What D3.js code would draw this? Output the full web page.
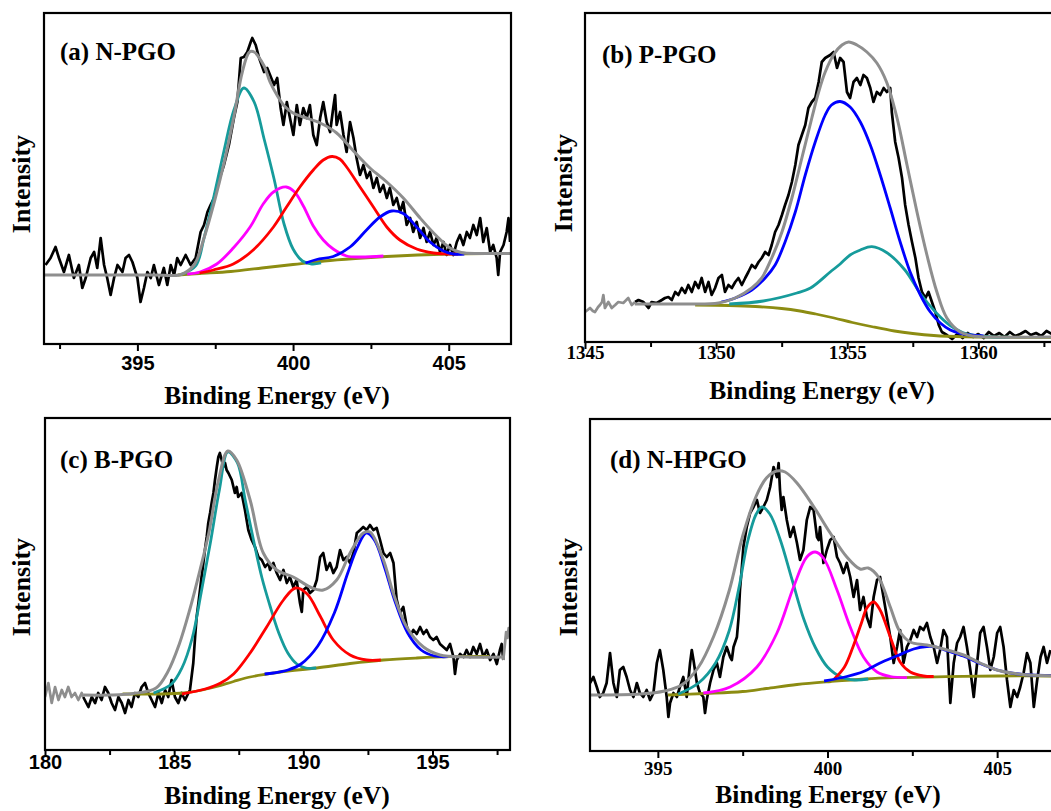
<!DOCTYPE html>
<html><head><meta charset="utf-8">
<script src="https://cdn.jsdelivr.net/npm/d3@7"></script>
<style>
html,body{margin:0;padding:0;background:#fff;overflow:hidden;}
svg{display:block;}
</style></head><body>
<svg id="chart" width="1051" height="811"></svg>
<script>
// ---------------- Panel (a) N-PGO ----------------
const aTicks = [395, 400, 405];
const aMinor = [392.5, 397.5, 402.5];
const aRaw = [[392.05,79],[392.21,86],[392.37,97],[392.48,86],[392.64,72],[392.80,89],[392.96,66],[393.12,79],[393.23,56],[393.34,66],[393.50,86],[393.61,92],[393.71,76],[393.82,106],[393.93,79],[394.03,66],[394.14,49],[394.25,66],[394.36,79],[394.52,72],[394.62,86],[394.73,89],[394.84,82],[395.00,66],[395.10,42],[395.21,56],[395.32,72],[395.43,66],[395.53,79],[395.69,59],[395.85,76],[395.96,59],[396.07,79],[396.18,69],[396.28,86],[396.39,79],[396.55,89],[396.71,79],[396.87,86],[397.03,112],[397.14,119],[397.25,132],[397.35,139],[397.46,146],[397.57,159],[397.78,179],[397.94,199],[398.10,226],[398.21,242],[398.32,286],[398.42,287],[398.53,292],[398.64,302],[398.69,306],[398.80,299],[398.91,286],[399.07,272],[399.17,276],[399.39,259],[399.49,266],[399.60,236],[399.69,219],[399.80,242],[399.90,226],[400.01,209],[400.12,239],[400.22,219],[400.33,236],[400.44,226],[400.54,239],[400.65,209],[400.76,199],[400.87,226],[400.97,242],[401.08,222],[401.19,212],[401.29,236],[401.35,249],[401.40,219],[401.51,232],[401.62,209],[401.72,192],[401.83,222],[401.94,206],[402.04,186],[402.15,169],[402.26,179],[402.37,166],[402.47,172],[402.58,156],[402.69,166],[402.79,152],[402.90,159],[403.01,146],[403.11,156],[403.22,139],[403.33,146],[403.44,132],[403.54,142],[403.65,119],[403.76,126],[403.86,112],[403.97,122],[404.08,106],[404.19,116],[404.29,102],[404.40,112],[404.51,99],[404.61,106],[404.72,92],[404.83,102],[404.93,89],[405.04,99],[405.15,89],[405.26,102],[405.36,109],[405.47,99],[405.58,112],[405.68,106],[405.79,119],[405.90,109],[406.01,126],[406.11,102],[406.22,116],[406.33,92],[406.43,99],[406.54,86],[406.59,69],[406.65,92],[406.76,99],[406.86,112],[406.92,126],[406.97,102]];
const aEnvelope = [[392,69],[394,69],[395.5,69],[396.4,69.5],[396.82,79],[397.14,106],[397.47,142],[397.79,182],[398.11,229],[398.37,272],[398.6,292],[398.75,292],[399.07,278],[399.26,262],[399.5,248],[399.72,238],[400.0,231],[400.33,227],[400.87,221],[401.4,211],[401.94,193],[402.47,176],[403.01,162],[403.54,146],[404.08,126],[404.61,108],[405.04,96],[405.4,91.5],[406,90.5],[407,90.5]];
const aBaseline = [[396.3,69],[397,70.5],[398,72.5],[399,76],[400,79.5],[401,83],[402,85.5],[403,87.5],[404,89],[405,90],[406.2,90.5]];
const aPeak1 = [[396.4,69.5],[396.87,78],[397.14,106],[397.46,148],[397.78,193],[398.1,234],[398.42,256],[398.75,242],[399.07,205],[399.39,165],[399.71,120],[400.0,95],[400.3,83],[400.6,80],[400.9,81]];
const aPeak2 = [[396.6,70],[397.01,72],[397.55,80],[398.08,96],[398.62,117],[399.04,140],[399.37,152],[399.78,157],[400.05,152],[400.33,138],[400.65,118],[400.97,104],[401.29,95],[401.72,88],[402.15,87],[402.9,88]];
const aPeak3 = [[397.0,71],[397.44,74],[398.08,80],[398.72,94],[399.37,117],[399.79,137],[400.22,157],[400.65,174],[400.97,184],[401.25,187.5],[401.5,185],[401.72,177],[402.15,157],[402.58,137],[403.01,117],[403.43,104],[403.97,95],[404.51,91],[404.93,90],[405.3,90]];
const aPeak4 = [[400.4,81],[400.76,84.5],[401.29,87.5],[401.83,97],[402.36,114],[402.79,127],[403.17,133],[403.54,130.5],[403.97,117],[404.4,102],[404.83,93],[405.15,90],[405.5,90]];

// ---------------- Panel (b) P-PGO ----------------
const bTicks = [1345, 1350, 1355, 1360];
const bMinor = [1347.5, 1352.5, 1357.5, 1362.5];
const bRawOutside = [[1345.0,30],[1345.1,32],[1345.19,34],[1345.3,31],[1345.38,30],[1345.5,35],[1345.57,37],[1345.65,40],[1345.7,47],[1345.76,34],[1345.89,40],[1346.02,34],[1346.15,37],[1346.27,40],[1346.46,39],[1346.65,44],[1346.78,37],[1346.91,40]];
const bRaw = [[1346.91,40],[1347.04,42],[1347.23,40],[1347.42,34],[1347.54,40],[1347.74,39],[1347.93,42],[1348.05,44],[1348.18,45],[1348.31,42],[1348.44,50],[1348.56,47],[1348.69,54],[1348.82,49],[1348.94,57],[1349.07,50],[1349.2,60],[1349.33,54],[1349.45,64],[1349.58,50],[1349.71,60],[1349.83,47],[1349.96,54],[1350.09,64],[1350.22,67],[1350.34,50],[1350.47,57],[1350.6,54],[1350.73,60],[1350.85,64],[1350.98,57],[1351.11,64],[1351.23,70],[1351.36,77],[1351.49,74],[1351.62,80],[1351.74,84],[1351.87,90],[1352.0,87],[1352.12,97],[1352.25,110],[1352.38,117],[1352.51,127],[1352.63,137],[1352.76,147],[1352.89,160],[1353.02,177],[1353.14,197],[1353.27,207],[1353.4,217],[1353.52,234],[1353.65,240],[1353.78,244],[1353.91,260],[1354.03,280],[1354.16,284],[1354.35,287],[1354.48,290],[1354.61,274],[1354.73,284],[1354.86,280],[1354.99,250],[1355.11,244],[1355.24,260],[1355.37,264],[1355.5,257],[1355.62,267],[1355.75,264],[1355.88,254],[1356.0,240],[1356.13,250],[1356.26,247],[1356.39,254],[1356.51,250],[1356.64,254],[1356.7,230],[1356.83,200],[1356.96,184],[1357.09,164],[1357.21,137],[1357.34,117],[1357.47,100],[1357.6,84],[1357.72,64],[1357.85,50],[1357.98,44],[1358.1,50],[1358.23,40],[1358.36,30],[1358.49,17],[1358.61,10],[1358.8,7],[1359.0,3],[1359.2,8],[1359.4,4],[1359.6,9],[1359.8,5],[1360.0,8],[1360.2,4],[1360.4,10],[1360.6,6],[1360.8,9],[1361.0,5],[1361.2,10],[1361.4,6],[1361.6,8],[1361.8,11],[1362.0,7],[1362.2,9],[1362.4,6],[1362.6,11],[1362.8,8],[1363.0,10]];
const bEnvelope = [[1346.9,38],[1348,38],[1349,38],[1350.09,39],[1350.73,44],[1351.36,54],[1351.74,64],[1352.12,84],[1352.51,110],[1352.89,144],[1353.27,184],[1353.65,224],[1353.91,250],[1354.16,270],[1354.5,288],[1354.8,297],[1355.05,300],[1355.37,297],[1355.75,290],[1356.13,279],[1356.5,260],[1356.9,224],[1357.28,177],[1357.66,130],[1358.04,87],[1358.42,50],[1358.8,24],[1359.31,10],[1359.8,6],[1360.5,5],[1363,5]];
const bBaseline = [[1349.2,37],[1350.5,36.5],[1351.5,35.5],[1352.5,33.5],[1353.2,31],[1353.8,28],[1354.5,24],[1355.2,19.5],[1356,15],[1356.8,11],[1357.5,8.5],[1358.3,6.5],[1359.5,5.2],[1361,4.8],[1363,4.5]];
const bPeak1 = [[1350.2,40],[1350.73,44],[1351.36,52],[1351.87,64],[1352.25,77],[1352.63,100],[1353.02,130],[1353.4,167],[1353.78,200],[1354.16,227],[1354.4,237],[1354.73,240.5],[1355.11,235],[1355.5,220],[1355.88,197],[1356.26,167],[1356.64,134],[1357.02,100],[1357.4,70],[1357.79,47],[1358.17,30],[1358.55,19],[1358.93,12],[1359.31,8.7],[1359.69,7],[1360.2,6]];
const bPeak2 = [[1350.5,38],[1351.8,41],[1353.08,49],[1353.6,54],[1354.35,70],[1354.73,78],[1355.11,87],[1355.5,92],[1355.94,95.3],[1356.5,89.5],[1357.2,72],[1357.8,48],[1358.4,29],[1358.9,17],[1359.4,9.5],[1359.9,6.5],[1360.5,5],[1361.2,4.8]];

// ---------------- Panel (c) B-PGO ----------------
const cTicks = [180, 185, 190, 195];
const cMinor = [182.5, 187.5, 192.5, 197.5];
const cRawOutsideLeft = [[180.0,53],[180.13,67],[180.26,47],[180.39,63],[180.52,50],[180.65,60],[180.77,53],[180.9,63],[181.03,53],[181.16,57],[181.29,50],[181.42,57],[181.48,53]];
const cRawOutsideRight = [[197.74,90],[197.8,105],[197.85,118],[197.9,112],[197.95,122],[198,116]];
const cRaw = [[181.48,53],[181.68,43],[181.81,53],[181.94,47],[182.06,57],[182.19,50],[182.32,63],[182.45,57],[182.58,47],[182.71,40],[182.84,53],[182.97,47],[183.10,37],[183.23,50],[183.35,43],[183.48,57],[183.61,53],[183.74,63],[183.87,67],[184.0,57],[184.13,50],[184.26,43],[184.39,57],[184.52,47],[184.65,60],[184.77,53],[184.9,70],[185.03,53],[185.16,47],[185.29,57],[185.42,50],[185.61,60],[185.74,87],[185.81,113],[185.87,133],[185.94,147],[186.0,160],[186.06,173],[186.13,187],[186.19,200],[186.26,213],[186.32,227],[186.39,237],[186.45,247],[186.52,257],[186.58,270],[186.65,283],[186.71,293],[186.77,297],[186.84,290],[186.9,283],[186.97,287],[187.03,280],[187.1,277],[187.23,270],[187.35,257],[187.42,263],[187.48,253],[187.61,257],[187.74,240],[187.87,220],[188.0,210],[188.13,203],[188.26,193],[188.39,190],[188.52,183],[188.65,187],[188.71,180],[188.84,187],[188.97,177],[189.10,170],[189.23,180],[189.36,167],[189.48,173],[189.61,163],[189.74,170],[189.87,147],[189.94,138],[190.0,160],[190.13,163],[190.26,157],[190.39,160],[190.52,170],[190.65,193],[190.77,197],[190.9,180],[191.03,187],[191.16,177],[191.29,183],[191.42,200],[191.55,190],[191.68,193],[191.81,187],[191.94,197],[192.07,217],[192.2,220],[192.32,223],[192.45,220],[192.58,225],[192.71,220],[192.84,222],[192.97,210],[193.1,197],[193.23,193],[193.36,197],[193.49,187],[193.61,151],[193.74,137],[193.87,143],[194.0,124],[194.13,114],[194.26,120],[194.39,116],[194.52,123],[194.65,116],[194.77,120],[194.9,113],[195.03,110],[195.16,113],[195.29,106],[195.42,103],[195.55,100],[195.68,106],[195.81,93],[195.87,76],[195.94,90],[196.07,96],[196.2,93],[196.32,100],[196.45,93],[196.58,103],[196.71,96],[196.84,106],[196.97,93],[197.1,100],[197.23,90],[197.36,96],[197.49,86],[197.61,100],[197.68,106],[197.74,90]];
const cEnvelope = [[181.48,55],[182.5,55],[183.42,56.5],[184.3,62],[184.75,78],[185.2,106],[185.6,140],[186.0,180],[186.35,218],[186.7,268],[187.08,299],[187.42,290],[187.94,250],[188.45,197],[188.97,180],[189.61,173],[190.26,163],[190.77,160],[191.29,170],[191.81,197],[192.32,217],[192.58,218],[193.1,190],[193.48,157],[194.0,123],[194.65,103],[195.29,95],[196.32,93],[197.74,93]];
const cBaseline = [[183.0,56],[184.5,56],[185.36,57],[186.0,59.5],[186.65,63.5],[187.3,68.5],[187.94,73],[188.6,76],[189.23,78.5],[190.52,82],[191.81,86.5],[193.1,90],[194.39,92],[195.68,93.3],[197.2,93.5]];
const cPeak1 = [[184.2,57],[184.9,66],[185.3,82],[185.7,112],[186.05,158],[186.4,207],[186.75,260],[187.08,298],[187.45,287],[187.75,250],[188.07,210],[188.4,172],[188.7,145],[189.05,117],[189.4,97],[189.75,86],[190.1,82],[190.5,82]];
const cPeak2 = [[185.3,56],[186.2,61],[186.8,67],[187.3,76],[187.94,97],[188.58,123],[189.23,150],[189.7,162],[190.15,156],[190.65,134],[191.16,110],[191.81,95],[192.45,90],[193,90]];
const cPeak3 = [[188.5,76],[188.84,77],[189.4,80],[189.91,86],[190.56,104],[191.2,137],[191.72,177],[192.1,203],[192.43,217],[192.75,210],[193.14,183],[193.53,150],[194.04,117],[194.56,100],[195.08,94],[195.6,93.3]];

// ---------------- Panel (d) N-HPGO ----------------
const dTicks = [395, 400, 405];
const dMinor = [397.5, 402.5];
const dRaw = [[393.0,68],[393.1,74],[393.2,64],[393.29,54],[393.39,58],[393.49,68],[393.59,98],[393.69,68],[393.79,54],[393.88,81],[393.98,84],[394.08,74],[394.18,61],[394.28,54],[394.38,68],[394.47,58],[394.57,54],[394.67,61],[394.77,51],[394.87,58],[394.97,88],[395.06,101],[395.16,81],[395.26,54],[395.31,34],[395.36,48],[395.46,58],[395.56,54],[395.65,64],[395.75,74],[395.85,54],[395.95,88],[396.0,101],[396.05,91],[396.15,68],[396.24,58],[396.34,54],[396.39,38],[396.44,51],[396.54,68],[396.64,81],[396.74,88],[396.83,74],[396.93,94],[397.03,104],[397.13,94],[397.18,91],[397.23,104],[397.33,114],[397.38,134],[397.42,161],[397.47,181],[397.52,204],[397.62,224],[397.72,238],[397.82,244],[397.92,251],[398.01,238],[398.11,244],[398.21,251],[398.31,264],[398.41,284],[398.51,274],[398.56,288],[398.6,261],[398.65,241],[398.7,254],[398.8,231],[398.9,214],[399.0,224],[399.1,208],[399.19,191],[399.29,201],[399.39,231],[399.49,244],[399.59,241],[399.69,214],[399.74,211],[399.78,224],[399.88,188],[399.98,201],[400.08,211],[400.18,214],[400.28,194],[400.37,188],[400.47,178],[400.57,188],[400.67,174],[400.77,154],[400.87,171],[400.96,141],[401.06,154],[401.16,134],[401.26,124],[401.36,154],[401.46,171],[401.55,174],[401.65,154],[401.75,134],[401.85,114],[401.95,88],[402.05,104],[402.14,121],[402.24,88],[402.34,104],[402.44,111],[402.54,121],[402.64,114],[402.73,124],[402.83,121],[402.93,128],[403.03,114],[403.13,104],[403.23,88],[403.32,101],[403.42,121],[403.52,114],[403.62,48],[403.72,88],[403.82,108],[403.91,114],[404.01,124],[404.11,104],[404.21,81],[404.31,54],[404.41,88],[404.5,118],[404.6,124],[404.7,104],[404.8,81],[404.9,94],[405.0,118],[405.09,124],[405.19,104],[405.29,71],[405.39,44],[405.49,61],[405.59,54],[405.68,64],[405.78,78],[405.88,98],[405.98,88],[406.08,44],[406.18,71],[406.28,94],[406.37,104],[406.47,88],[406.57,101]];
const dEnvelope = [[393,56],[394.5,57],[395.2,60],[395.7,66],[396.2,84],[396.65,115],[397.1,160],[397.5,215],[397.9,255],[398.2,273],[398.5,280],[398.75,279],[399.1,268],[399.6,244],[400.08,218],[400.57,194],[400.96,182],[401.2,183],[401.5,174],[401.85,144],[402.14,119],[402.44,109],[402.93,106],[403.42,102],[404.01,96],[404.5,88],[404.99,81],[405.48,77.7],[405.98,76],[407,75]];
const dBaseline = [[395.3,56],[396.4,57.5],[397.5,59.5],[398.2,62.5],[399.1,66.5],[400.1,69.5],[401.1,72],[402.0,73.3],[403.5,74.3],[405,75],[407,75]];
const dPeak1 = [[395.6,57],[396.2,68],[396.7,88],[397.1,120],[397.4,165],[397.65,210],[397.9,237],[398.07,244],[398.3,237],[398.6,212],[398.95,172],[399.3,132],[399.65,103],[400.0,84],[400.4,74],[400.8,71],[401.2,72]];
const dPeak2 = [[396.34,58],[397.13,64],[397.92,84],[398.51,118],[399.0,164],[399.39,194],[399.64,199],[399.88,193],[400.28,161],[400.67,124],[401.06,94],[401.46,79],[401.85,74.5],[402.34,73.3]];
const dPeak3 = [[400.2,72],[400.5,84],[400.75,104],[401.0,128],[401.16,143],[401.36,149],[401.55,141],[401.85,114],[402.14,89],[402.44,79],[402.83,75],[403.13,74.5]];
const dPeak4 = [[399.9,70],[400.57,74.5],[401.06,79.5],[401.55,88],[402.04,95],[402.54,102],[402.93,104.5],[403.2,104],[403.5,100.5],[404.0,95],[404.5,87.5],[405.0,81],[405.5,77.5],[406,76],[406.6,75.5]];

// ---------------- styling / layout ----------------
const COL = {raw:'#000000', env:'#8e8e8e', base:'#8c8c12', teal:'#169b9b', magenta:'#ff00ff', red:'#ff0000', blue:'#0000ff'};
const SERIF = '"Liberation Serif","Times New Roman",serif';
const SANS = '"Liberation Sans",Arial,sans-serif';

const panels = [
  {label:'(a) N-PGO', frame:{l:44,t:13,r:511,b:344}, xDomain:[392,407], ticks:aTicks, minor:aMinor,
   tickFamily:SANS, tickSize:20, tickY:26, xTitle:[277,404], yTitle:[30,184], labelAt:[60,60],
   raw:aRaw, rawGray:[], env:aEnvelope, base:aBaseline,
   peaks:[[aPeak1,COL.teal],[aPeak2,COL.magenta],[aPeak3,COL.red],[aPeak4,COL.blue]]},
  {label:'(b) P-PGO', frame:{l:585,t:13,r:1057,b:342}, xDomain:[1345,1363], ticks:bTicks, minor:bMinor,
   tickFamily:SERIF, tickSize:19, tickY:17, xTitle:[822,399], yTitle:[572,183], labelAt:[602,63],
   raw:bRaw, rawGray:[bRawOutside], env:bEnvelope, base:bBaseline,
   peaks:[[bPeak2,COL.teal],[bPeak1,COL.blue]]},
  {label:'(c) B-PGO', frame:{l:45,t:418,r:510,b:750}, xDomain:[180,198], ticks:cTicks, minor:cMinor,
   tickFamily:SANS, tickSize:20, tickY:19, xTitle:[277,804], yTitle:[30,587], labelAt:[60,468],
   raw:cRaw, rawGray:[cRawOutsideLeft,cRawOutsideRight], env:cEnvelope, base:cBaseline,
   peaks:[[cPeak1,COL.teal],[cPeak2,COL.red],[cPeak3,COL.blue]]},
  {label:'(d) N-HPGO', frame:{l:590,t:419,r:1065,b:751}, xDomain:[393,407], ticks:dTicks, minor:dMinor,
   tickFamily:SERIF, tickSize:19, tickY:24, xTitle:[828,803], yTitle:[577,587], labelAt:[610,468],
   raw:dRaw, rawGray:[], env:dEnvelope, base:dBaseline,
   peaks:[[dPeak1,COL.teal],[dPeak2,COL.magenta],[dPeak3,COL.red],[dPeak4,COL.blue]]}
];

const svg = d3.select('#chart');
svg.append('rect').attr('width',1051).attr('height',811).attr('fill','#fff');

panels.forEach((p,i) => {
  const f = p.frame;
  const x = d3.scaleLinear().domain(p.xDomain).range([f.l, f.r]);
  const y = d3.scaleLinear().domain([0, f.b - f.t]).range([f.b, f.t]);
  const clipId = 'clip' + i;
  svg.append('clipPath').attr('id', clipId).append('rect')
    .attr('x', f.l).attr('y', f.t).attr('width', f.r - f.l).attr('height', f.b - f.t);
  const g = svg.append('g').attr('clip-path', `url(#${clipId})`);
  const smooth = d3.line().x(d => x(d[0])).y(d => y(d[1])).curve(d3.curveCatmullRom.alpha(0.5));
  const jag = d3.line().x(d => x(d[0])).y(d => y(d[1]));

  g.append('path').attr('d', jag(p.raw)).attr('fill','none').attr('stroke',COL.raw)
    .attr('stroke-width',2.7).attr('stroke-linejoin','round');
  p.rawGray.forEach(seg => g.append('path').attr('d', jag(seg)).attr('fill','none')
    .attr('stroke',COL.env).attr('stroke-width',2.7).attr('stroke-linejoin','round'));
  g.append('path').attr('d', smooth(p.base)).attr('fill','none').attr('stroke',COL.base).attr('stroke-width',2.8);
  p.peaks.forEach(([pts,c]) => g.append('path').attr('d', smooth(pts)).attr('fill','none')
    .attr('stroke',c).attr('stroke-width',2.8));
  g.append('path').attr('d', smooth(p.env)).attr('fill','none').attr('stroke',COL.env).attr('stroke-width',3);

  // frame
  svg.append('rect').attr('x', f.l).attr('y', f.t).attr('width', f.r - f.l).attr('height', f.b - f.t)
    .attr('fill','none').attr('stroke','#000').attr('stroke-width',2.2);

  // axes
  const ax = svg.append('g').attr('transform', `translate(0,${f.b})`)
    .call(d3.axisBottom(x).tickValues(p.ticks).tickSize(7).tickFormat(d3.format('d')));
  ax.select('.domain').remove();
  ax.selectAll('line').attr('stroke','#000').attr('stroke-width',2);
  ax.selectAll('text').attr('y', p.tickY).attr('dy', null)
    .attr('font-family', p.tickFamily).attr('font-weight','bold').attr('font-size', p.tickSize).attr('fill','#000');
  const mx = svg.append('g').attr('transform', `translate(0,${f.b})`)
    .call(d3.axisBottom(x).tickValues(p.minor).tickSize(5).tickFormat(''));
  mx.select('.domain').remove();
  mx.selectAll('line').attr('stroke','#000').attr('stroke-width',2);

  // titles
  svg.append('text').attr('x', p.xTitle[0]).attr('y', p.xTitle[1]).attr('text-anchor','middle')
    .attr('font-family', SERIF).attr('font-weight','bold').attr('font-size', 25.5).text('Binding Energy (eV)');
  svg.append('text').attr('transform', `translate(${p.yTitle[0]},${p.yTitle[1]}) rotate(-90)`)
    .attr('text-anchor','middle').attr('font-family', SERIF).attr('font-weight','bold')
    .attr('font-size', 26).text('Intensity');
  svg.append('text').attr('x', p.labelAt[0]).attr('y', p.labelAt[1])
    .attr('font-family', SERIF).attr('font-weight','bold').attr('font-size', 25).text(p.label);
});
</script>
</body></html>
